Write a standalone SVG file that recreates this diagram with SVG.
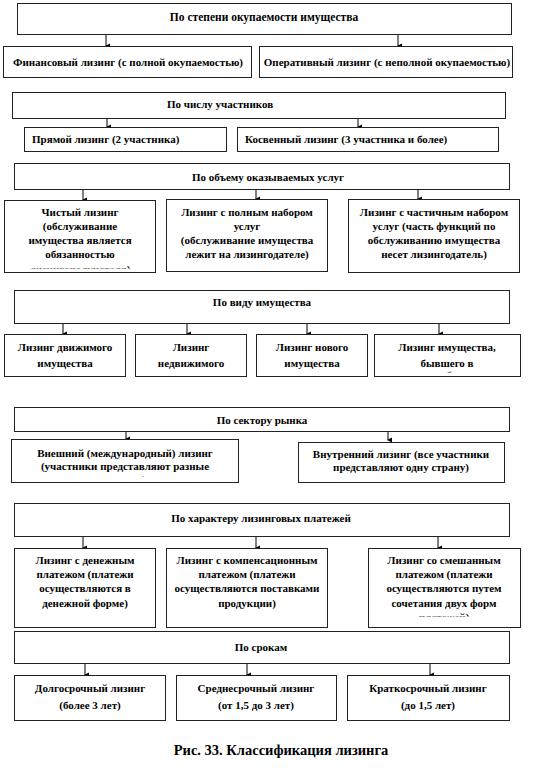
<svg xmlns="http://www.w3.org/2000/svg" width="551" height="773" viewBox="0 0 551 773">
<style>
.b{fill:#fff;stroke:#222;stroke-width:1}
.t{font-family:"Liberation Serif","Times New Roman",serif;font-weight:bold;font-size:11px;text-anchor:middle;fill:#000}
.s{text-anchor:start}
.h{font-size:11.5px}
.c{font-size:14.5px}
.a{stroke:#000;stroke-width:1;fill:none;marker-end:url(#ah)}
</style>
<defs>
<marker id="ah" markerWidth="6" markerHeight="6" refX="3" refY="5" orient="auto" markerUnits="userSpaceOnUse" viewBox="0 0 6 6">
<path d="M0.5,1 L5.5,1 L3,6 z" fill="#000"/>
</marker>
<clipPath id="cl1"><rect x="4" y="265" width="152" height="3.5"/></clipPath>
<clipPath id="cl2"><rect x="374" y="366" width="147" height="6.5"/></clipPath>
<clipPath id="cl3"><rect x="11" y="472" width="228" height="4.5"/></clipPath>
<clipPath id="cl4"><rect x="368" y="612" width="153" height="4.5"/></clipPath>
</defs>
<rect width="551" height="773" fill="#fff"/>

<g id="connectors">
<line class="a" x1="106" y1="34" x2="106" y2="46"/>
<line class="a" x1="398" y1="34" x2="398" y2="46"/>
<line class="a" x1="107" y1="118" x2="107" y2="127"/>
<line class="a" x1="358" y1="118" x2="358" y2="127"/>
<line class="a" x1="83" y1="189" x2="83" y2="200"/>
<line class="a" x1="256" y1="189" x2="256" y2="199"/>
<line class="a" x1="418" y1="189" x2="418" y2="199"/>
<line class="a" x1="63" y1="323" x2="63" y2="334"/>
<line class="a" x1="187" y1="323" x2="187" y2="334"/>
<line class="a" x1="307" y1="323" x2="307" y2="334"/>
<line class="a" x1="439" y1="323" x2="439" y2="334"/>
<line class="a" x1="126" y1="431" x2="126" y2="439"/>
<line class="a" x1="388" y1="431" x2="388" y2="440"/>
<line class="a" x1="83" y1="536" x2="83" y2="548"/>
<line class="a" x1="256" y1="536" x2="256" y2="548"/>
<line class="a" x1="438" y1="536" x2="438" y2="548"/>
<line class="a" x1="85" y1="663" x2="85" y2="675"/>
<line class="a" x1="247" y1="663" x2="247" y2="675"/>
<line class="a" x1="430" y1="663" x2="430" y2="675"/>
</g>

<g id="n1"><rect class="b" x="17.5" y="3.5" width="494" height="31"/><text class="t h" x="264" y="21">По степени окупаемости имущества</text></g>
<g id="n1a"><rect class="b" x="3.5" y="46.5" width="248" height="31"/><text class="t" x="128" y="66">Финансовый лизинг (с полной окупаемостью)</text></g>
<g id="n1b"><rect class="b" x="259.5" y="46.5" width="253" height="31"/><text class="t" x="387" y="66">Оперативный лизинг (с неполной окупаемостью)</text></g>

<g id="n2"><rect class="b" x="12.5" y="92.5" width="493" height="26"/><text class="t" x="220" y="108">По числу участников</text></g>
<g id="n2a"><rect class="b" x="24.5" y="127.5" width="202" height="24"/><text class="t s" x="32" y="143">Прямой лизинг (2 участника)</text></g>
<g id="n2b"><rect class="b" x="237.5" y="127.5" width="261" height="24"/><text class="t s" x="245" y="143">Косвенный лизинг (3 участника и более)</text></g>

<g id="n3"><rect class="b" x="14.5" y="163.5" width="495" height="26"/><text class="t" x="268" y="181">По объему оказываемых услуг</text></g>
<g id="n3a"><rect class="b" x="4.5" y="200.5" width="151" height="72"/>
<text class="t" x="80" y="216">Чистый лизинг</text>
<text class="t" x="80" y="230">(обслуживание</text>
<text class="t" x="80" y="244">имущества является</text>
<text class="t" x="80" y="258">обязанностью</text>
<text class="t" x="80" y="273" clip-path="url(#cl1)">лизингополучателя)</text></g>
<g id="n3b"><rect class="b" x="166.5" y="199.5" width="161" height="72"/>
<text class="t" x="247" y="216">Лизинг с полным набором</text>
<text class="t" x="247" y="230">услуг</text>
<text class="t" x="247" y="244">(обслуживание имущества</text>
<text class="t" x="247" y="258">лежит на  лизингодателе)</text></g>
<g id="n3c"><rect class="b" x="348.5" y="199.5" width="171" height="73"/>
<text class="t" x="434" y="216">Лизинг с частичным набором</text>
<text class="t" x="434" y="230">услуг (часть функций по</text>
<text class="t" x="434" y="244">обслуживанию имущества</text>
<text class="t" x="434" y="258">несет лизингодатель)</text></g>

<g id="n4"><rect class="b" x="14.5" y="290.5" width="495" height="33"/><text class="t" x="262" y="306">По виду имущества</text></g>
<g id="n4a"><rect class="b" x="4.5" y="334.5" width="121" height="42"/>
<text class="t" x="65" y="351">Лизинг движимого</text>
<text class="t" x="65" y="367">имущества</text></g>
<g id="n4b"><rect class="b" x="135.5" y="334.5" width="111" height="42"/>
<text class="t" x="191" y="351">Лизинг</text>
<text class="t" x="191" y="367">недвижимого</text></g>
<g id="n4c"><rect class="b" x="256.5" y="334.5" width="111" height="42"/>
<text class="t" x="312" y="351">Лизинг нового</text>
<text class="t" x="312" y="367">имущества</text></g>
<g id="n4d"><rect class="b" x="374.5" y="334.5" width="146" height="42"/>
<text class="t" x="447" y="351">Лизинг имущества,</text>
<text class="t" x="447" y="367">бывшего в</text>
<text class="t" x="447" y="378.5" clip-path="url(#cl2)">употреблении</text></g>

<g id="n5"><rect class="b" x="14.5" y="407.5" width="495" height="24"/><text class="t" x="262" y="424">По сектору рынка</text></g>
<g id="n5a"><rect class="b" x="11.5" y="439.5" width="227" height="43"/>
<text class="t" x="125" y="457">Внешний (международный) лизинг</text>
<text class="t" x="125" y="470">(участники представляют разные</text>
<text class="t" x="125" y="483" clip-path="url(#cl3)">страны)</text></g>
<g id="n5b"><rect class="b" x="298.5" y="442.5" width="206" height="40"/>
<text class="t" x="401" y="458">Внутренний лизинг (все участники</text>
<text class="t" x="401" y="471">представляют одну страну)</text></g>

<g id="n6"><rect class="b" x="14.5" y="503.5" width="495" height="33"/><text class="t" x="261" y="522">По характеру лизинговых платежей</text></g>
<g id="n6a"><rect class="b" x="14.5" y="548.5" width="141" height="79"/>
<text class="t" x="85" y="564">Лизинг с денежным</text>
<text class="t" x="85" y="578">платежом (платежи</text>
<text class="t" x="85" y="592">осуществляются в</text>
<text class="t" x="85" y="607">денежной форме)</text></g>
<g id="n6b"><rect class="b" x="166.5" y="548.5" width="161" height="79"/>
<text class="t" x="247" y="564">Лизинг с компенсационным</text>
<text class="t" x="247" y="578">платежом (платежи</text>
<text class="t" x="247" y="592">осуществляются поставками</text>
<text class="t" x="247" y="607">продукции)</text></g>
<g id="n6c"><rect class="b" x="368.5" y="548.5" width="152" height="79"/>
<text class="t" x="444" y="564">Лизинг со смешанным</text>
<text class="t" x="444" y="578">платежом (платежи</text>
<text class="t" x="444" y="592">осуществляются путем</text>
<text class="t" x="444" y="607">сочетания двух форм</text>
<text class="t" x="444" y="621" clip-path="url(#cl4)">платежей)</text></g>

<g id="n7"><rect class="b" x="14.5" y="631.5" width="495" height="32"/><text class="t" x="261" y="651">По срокам</text></g>
<g id="n7a"><rect class="b" x="14.5" y="675.5" width="151" height="45"/>
<text class="t" x="90" y="692">Долгосрочный лизинг</text>
<text class="t" x="90" y="709">(более 3 лет)</text></g>
<g id="n7b"><rect class="b" x="176.5" y="675.5" width="160" height="45"/>
<text class="t" x="256" y="692">Среднесрочный лизинг</text>
<text class="t" x="256" y="709">(от 1,5 до 3 лет)</text></g>
<g id="n7c"><rect class="b" x="347.5" y="675.5" width="162" height="45"/>
<text class="t" x="428" y="692">Краткосрочный лизинг</text>
<text class="t" x="428" y="709">(до 1,5 лет)</text></g>

<text class="t c" x="281" y="755">Рис. 33. Классификация лизинга</text>
</svg>
